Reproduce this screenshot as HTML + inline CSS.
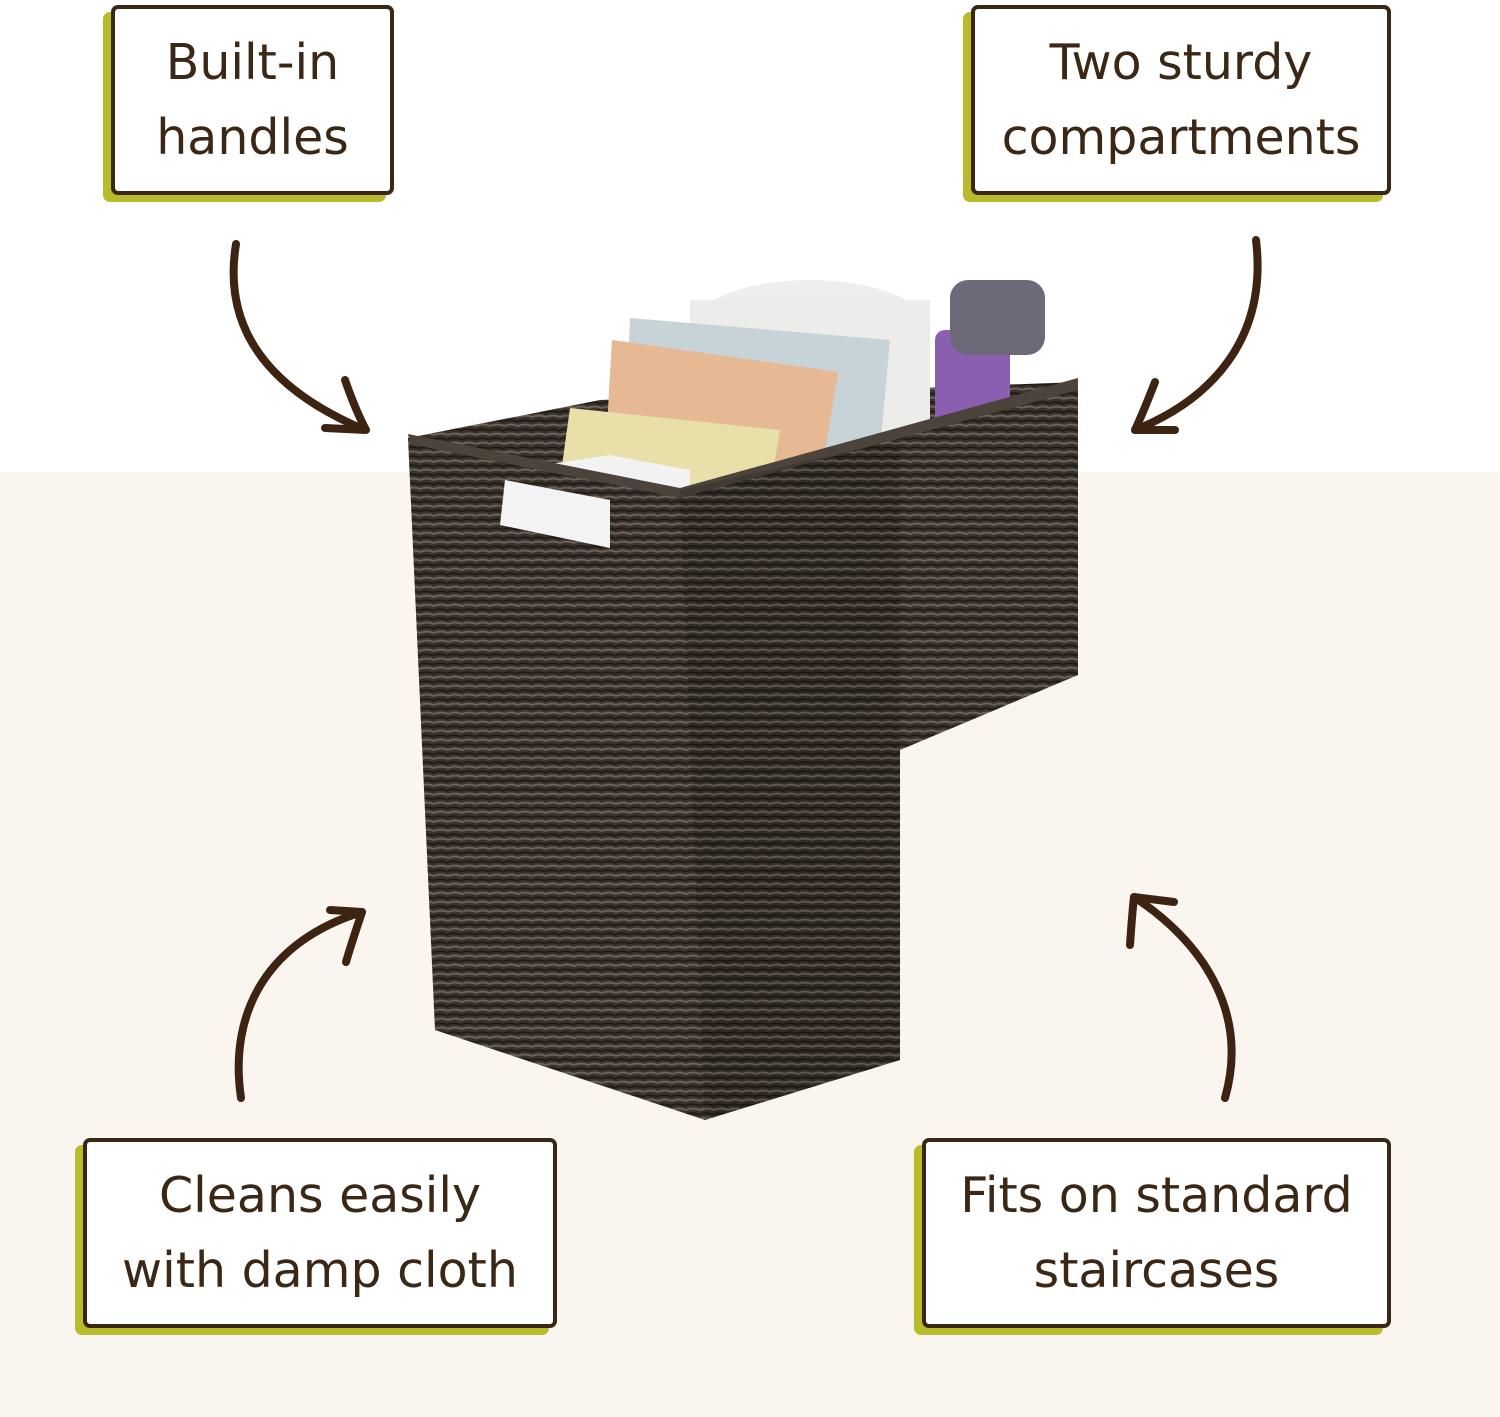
<!DOCTYPE html>
<html><head><meta charset="utf-8"><style>
body{margin:0;width:1500px;height:1417px;position:relative;overflow:hidden;background:#fff;font-family:"DejaVu Sans","Liberation Sans",sans-serif;}
.bg{position:absolute;left:0;top:472px;width:1500px;height:945px;background:#faf5ef;}
.box{position:absolute;background:#fff;border:4px solid #3b2716;border-radius:7px;box-shadow:-8px 7px 0 #b8bb2a;color:#3b2716;font-size:49px;line-height:75px;text-align:center;display:flex;align-items:center;justify-content:center;box-sizing:border-box;}
svg{position:absolute;left:0;top:0;}
</style></head><body>
<div class="bg"></div>
<svg width="1500" height="1417">
<defs>
<pattern id="w" width="14" height="9" patternUnits="userSpaceOnUse">
<rect width="14" height="9" fill="#3a322b"/>
<path d="M0 3 Q7 0 14 3" stroke="#6b625a" stroke-width="2" fill="none"/>
<path d="M0 7 Q7 5 14 8" stroke="#211b16" stroke-width="2" fill="none"/>
</pattern>
</defs>
<!-- back wall -->
<polygon points="408,438 600,400 1078,382 1078,420 600,470 420,470" fill="url(#w)"/>
<!-- contents -->
<ellipse cx="810" cy="330" rx="120" ry="50" fill="#eeeeec"/>
<rect x="690" y="300" width="240" height="150" fill="#ececea"/>
<polygon points="630,318 890,340 880,450 625,440" fill="#c7d3d6"/>
<polygon points="612,340 838,372 822,470 605,460" fill="#e6b994"/>
<polygon points="570,408 780,430 770,490 560,480" fill="#e9dfa8"/>
<polygon points="510,470 610,455 690,470 690,540 520,540" fill="#f2f2f2"/>
<rect x="935" y="330" width="75" height="110" rx="10" fill="#8a5fb0"/>
<rect x="950" y="280" width="95" height="75" rx="18" fill="#6c6a78"/>
<!-- basket body -->
<polygon points="408,438 680,492 1078,382 1078,675 900,750 900,1060 705,1120 435,1030" fill="url(#w)"/>
<polygon points="408,434 680,488 1078,378 1078,390 680,498 410,444" fill="#4b433c"/>
<polygon points="680,490 900,440 900,1060 705,1120" fill="#000" opacity="0.12"/>
<polygon points="505,480 610,500 610,548 500,525" fill="#f3f3f3"/>
<g stroke="#3d2412" stroke-width="8" fill="none" stroke-linecap="round" stroke-linejoin="round">
<path d="M236 244 C222 330 270 390 365 430"/>
<path d="M345 380 C352 400 358 415 366 430 L325 428"/>
<path d="M1256 240 C1268 340 1210 400 1135 430"/>
<path d="M1155 382 C1148 400 1142 415 1135 430 L1175 430"/>
<path d="M241 1098 C228 1010 270 940 362 912"/>
<path d="M330 910 L362 912 C356 930 350 948 346 962"/>
<path d="M1225 1098 C1250 1010 1200 940 1134 897"/>
<path d="M1174 902 L1134 897 C1132 915 1131 930 1130 945"/>
</g>
</svg>
<div class="box" style="left:111px;top:5px;width:283px;height:190px;">Built-in<br>handles</div>
<div class="box" style="left:971px;top:5px;width:420px;height:190px;">Two sturdy<br>compartments</div>
<div class="box" style="left:83px;top:1138px;width:474px;height:190px;">Cleans easily<br>with damp cloth</div>
<div class="box" style="left:922px;top:1138px;width:469px;height:190px;">Fits on standard<br>staircases</div>
</body></html>
